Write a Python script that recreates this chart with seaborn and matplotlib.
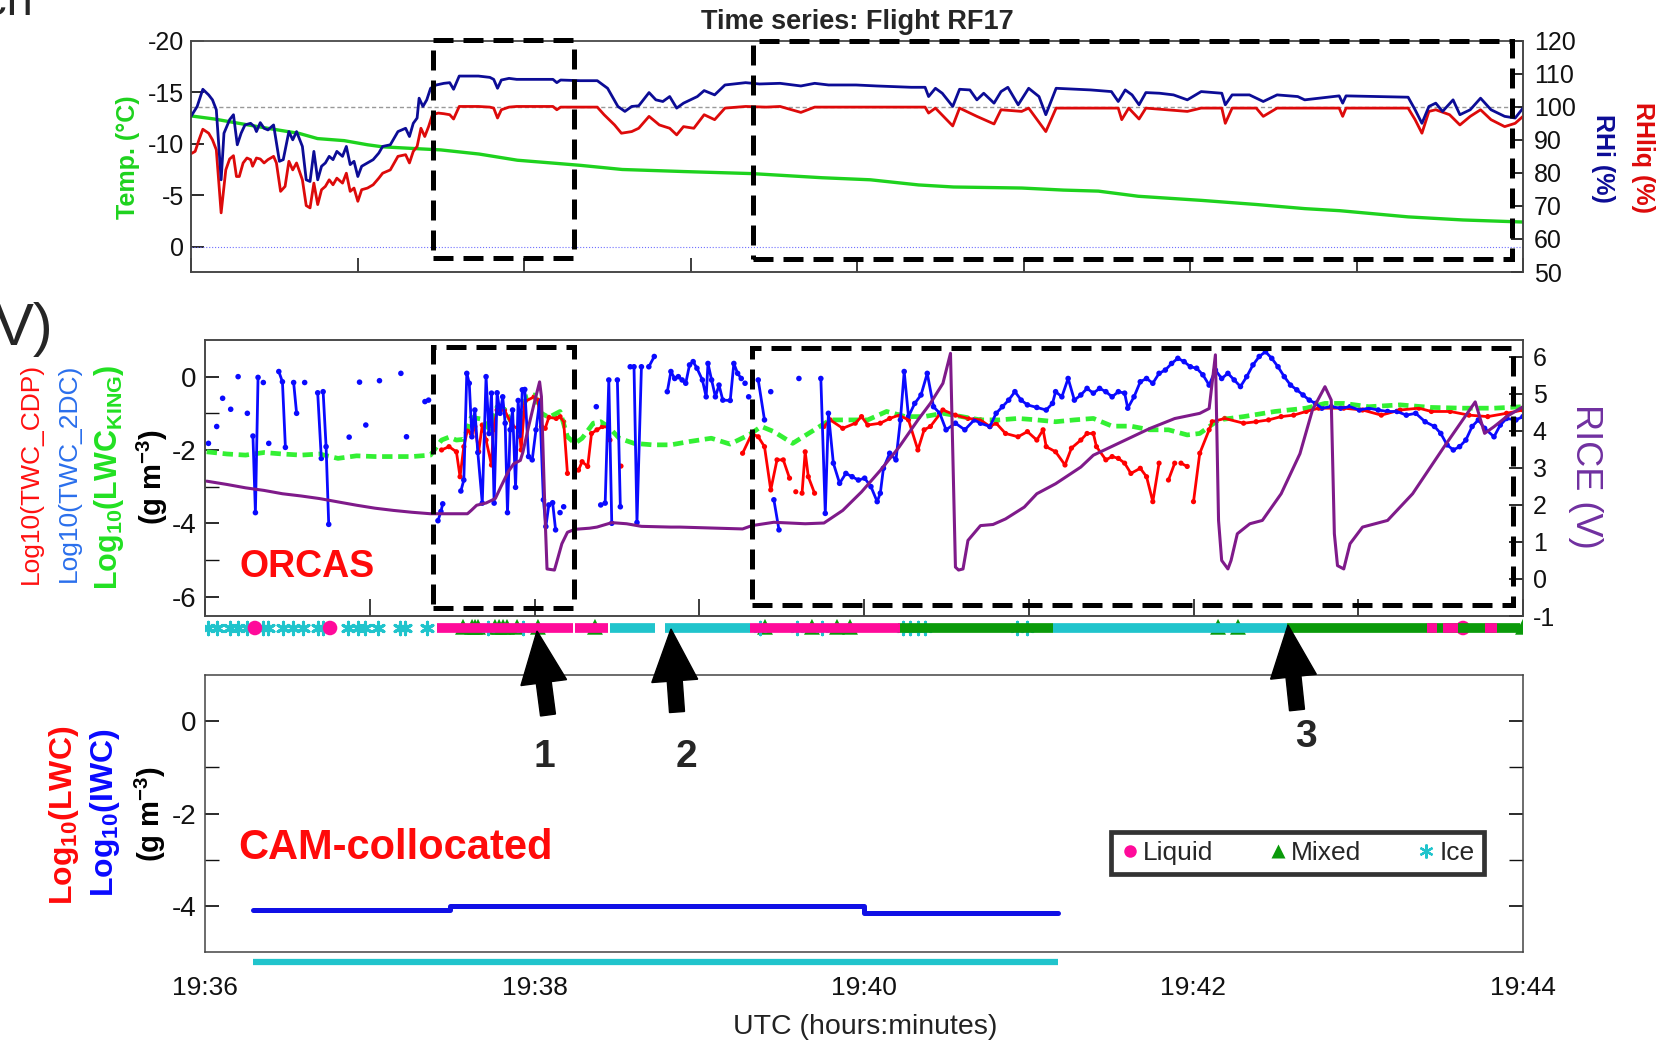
import numpy as np
import pandas as pd
import matplotlib
matplotlib.use('Agg')
import matplotlib.pyplot as plt
import seaborn as sns
from matplotlib import font_manager as fm
from matplotlib.patches import Rectangle, FancyArrow
from matplotlib.transforms import IdentityTransform
from matplotlib.lines import Line2D

# ---------------- DATA (time = minutes after 19:36 UTC) ----------------
temp_t = [0.00, 0.14, 0.28, 0.46, 0.65, 0.76, 0.92, 1.06, 1.15, 1.38, 1.50, 1.73, 1.96, 2.19, 2.34, 2.59,
          2.96, 3.37, 3.79, 4.08, 4.37, 4.58, 4.99, 5.24, 5.45, 5.69, 6.07, 6.40, 6.69, 6.90, 7.31, 7.64, 8.00]
temp_c = [-12.7, -12.4, -12.0, -11.5, -11.0, -10.5, -10.3, -9.9, -9.7, -9.5, -9.4, -9.0, -8.4, -8.1, -7.9, -7.5,
          -7.3, -7.1, -6.7, -6.5, -6.0, -5.8, -5.7, -5.5, -5.4, -4.9, -4.5, -4.1, -3.7, -3.5, -2.9, -2.6, -2.4]

rhi_t = [0.000, 0.037, 0.071, 0.106, 0.129, 0.152, 0.181, 0.198, 0.232, 0.255, 0.278, 0.301, 0.324, 0.358, 0.381,
         0.393, 0.416, 0.439, 0.462, 0.496, 0.531, 0.554, 0.588, 0.611, 0.634, 0.669, 0.692, 0.715, 0.738, 0.761,
         0.784, 0.807, 0.830, 0.853, 0.876, 0.910, 0.933, 0.956, 0.979, 1.002, 1.025, 1.060, 1.094, 1.128, 1.151,
         1.197, 1.243, 1.289, 1.312, 1.335, 1.358, 1.370, 1.393, 1.416, 1.439, 1.473, 1.519, 1.554, 1.577, 1.611,
         1.726, 1.795, 1.818, 1.841, 1.864, 1.910, 1.956, 2.174, 2.197, 2.220,
         2.336, 2.440, 2.502, 2.564, 2.606, 2.647, 2.689, 2.751, 2.792, 2.834, 2.875, 2.917, 2.958, 3.000, 3.041,
         3.082, 3.145, 3.207, 3.331, 3.414, 3.538, 3.663, 3.746, 3.829, 3.994, 4.119, 4.326, 4.409, 4.430, 4.471,
         4.512, 4.575, 4.616, 4.678, 4.720, 4.761, 4.823, 4.865, 4.906, 4.968, 5.031, 5.093, 5.134, 5.196, 5.321,
         5.404, 5.528, 5.569, 5.611, 5.652, 5.694, 5.735, 5.818, 5.901, 5.984, 6.067, 6.191, 6.212, 6.253, 6.357,
         6.440, 6.523, 6.647, 6.689, 6.896, 6.917, 6.937, 7.310, 7.352, 7.393, 7.435, 7.476, 7.517, 7.580, 7.621,
         7.683, 7.745, 7.808, 7.890, 7.953, 8.000]
rhi = [97.1, 100.1, 105.3, 103.6, 102.1, 99.1, 77.9, 92.0, 96.1, 97.6, 88.5, 92.0, 94.5, 95.0, 94.0,
       92.5, 95.2, 93.5, 93.0, 94.5, 83.5, 84.0, 92.5, 90.0, 92.5, 88.0, 77.9, 77.4, 86.5, 77.9,
       82.0, 83.0, 85.0, 84.0, 86.5, 85.0, 88.0, 82.5, 83.5, 78.9, 82.0, 83.0, 84.0, 86.0, 88.0,
       88.5, 92.5, 93.5, 91.0, 95.0, 96.6, 102.6, 100.1, 102.1, 105.6, 106.6, 107.1, 107.3, 105.3, 109.3,
       109.3, 108.9, 108.3, 105.6, 108.1, 108.6, 108.3, 108.3, 107.3, 108.1,
       107.9, 107.9, 105.6, 100.1, 98.6, 100.1, 100.3, 104.3, 102.1, 101.6, 103.1, 99.6, 101.1, 102.1, 103.1,
       104.9, 103.6, 106.6, 107.3, 106.9, 107.1, 106.3, 107.1, 106.6, 106.6, 106.3, 105.9, 105.9, 103.1, 105.6,
       104.1, 100.1, 105.3, 105.1, 102.1, 104.1, 101.1, 104.6, 105.9, 100.6, 105.6, 103.1, 97.6, 105.6, 105.3,
       105.1, 104.6, 101.6, 105.1, 103.6, 100.6, 104.3, 104.1, 103.6, 102.1, 104.6, 104.1, 100.6, 103.6, 103.6,
       101.6, 103.6, 103.1, 102.1, 103.3, 101.1, 103.3, 102.9, 99.1, 95.0, 100.1, 101.1, 98.6, 102.1, 97.6,
       99.1, 102.6, 99.1, 97.1, 96.6, 99.6]

rhliq_t = [0.000, 0.025, 0.048, 0.071, 0.106, 0.129, 0.152, 0.181, 0.209, 0.232, 0.255, 0.273, 0.290, 0.313, 0.336,
           0.358, 0.370, 0.393, 0.416, 0.439, 0.462, 0.496, 0.513, 0.538, 0.565, 0.588, 0.611, 0.634, 0.669, 0.692,
           0.715, 0.738, 0.761, 0.784, 0.807, 0.830, 0.853, 0.876, 0.910, 0.933, 0.956, 0.979, 1.002, 1.025, 1.060,
           1.094, 1.128, 1.151, 1.197, 1.243, 1.289, 1.312, 1.335, 1.358, 1.381, 1.404, 1.427, 1.450, 1.485, 1.519,
           1.554, 1.577, 1.611, 1.726, 1.795, 1.818, 1.841, 1.864, 1.910, 1.956, 2.174, 2.197, 2.220,
           2.336, 2.440, 2.481, 2.544, 2.585, 2.647, 2.689, 2.751, 2.813, 2.875, 2.917, 2.958, 3.020, 3.082, 3.145,
           3.207, 3.331, 3.455, 3.538, 3.663, 3.746, 3.994, 4.409, 4.430, 4.471, 4.575, 4.616, 4.720, 4.823, 4.865,
           4.989, 5.031, 5.134, 5.196, 5.569, 5.590, 5.632, 5.694, 5.735, 5.984, 6.067, 6.191, 6.212, 6.253, 6.398,
           6.440, 6.523, 6.896, 6.917, 6.937, 7.310, 7.352, 7.393, 7.435, 7.476, 7.559, 7.621, 7.683, 7.745, 7.808,
           7.890, 7.953, 8.000]
rhliq = [85.8, 86.5, 90.0, 93.2, 92.0, 90.0, 87.0, 67.9, 80.9, 84.2, 85.2, 78.9, 78.9, 83.0, 84.5,
         84.0, 82.0, 84.5, 84.2, 83.0, 84.0, 85.0, 83.0, 74.4, 75.9, 83.5, 80.9, 83.0, 77.9, 70.1,
         69.4, 76.9, 70.4, 74.9, 75.9, 77.9, 76.4, 78.4, 76.9, 79.9, 74.4, 75.4, 71.4, 74.9, 75.4,
         76.4, 78.4, 79.9, 80.9, 85.0, 85.5, 83.0, 86.5, 88.0, 93.5, 91.0, 94.0, 97.6, 98.1, 97.9,
         97.6, 96.3, 100.1, 100.1, 99.9, 99.6, 96.6, 99.1, 99.9, 100.1, 100.1, 99.1, 99.9,
         99.9, 99.9, 97.6, 94.5, 92.0, 92.5, 93.5, 97.1, 94.5, 93.5, 91.5, 94.0, 93.5, 97.6, 96.1,
         99.6, 100.1, 99.9, 100.1, 98.3, 99.9, 99.9, 99.9, 98.1, 99.6, 94.2, 99.6, 97.1, 94.8, 99.1,
         98.6, 99.6, 92.5, 99.6, 99.6, 96.1, 99.6, 96.3, 99.6, 98.6, 99.6, 99.6, 95.0, 99.6, 99.6,
         97.1, 99.6, 99.6, 97.1, 99.6, 99.6, 96.1, 92.0, 98.6, 99.1, 97.6, 94.5, 97.1, 99.1, 96.1,
         94.0, 95.0, 97.1]

rice_t = [0.010, 0.134, 0.246, 0.358, 0.470, 0.583, 0.695, 0.807, 0.920, 1.032, 1.144, 1.256, 1.369, 1.481, 1.593,
          1.616, 1.649, 1.706, 1.762, 1.795, 1.840, 1.874, 1.914, 1.930, 1.964, 1.998, 2.031, 2.042, 2.065, 2.076,
          2.121, 2.132, 2.166, 2.200, 2.245, 2.334, 2.379, 2.469, 2.559, 2.649, 2.828, 2.883, 3.263, 3.320, 3.453,
          3.643, 3.757, 3.871, 3.985, 4.099, 4.213, 4.327, 4.403, 4.479, 4.525, 4.555, 4.574, 4.601, 4.631, 4.707,
          4.783, 4.859, 4.973, 5.049, 5.163, 5.316, 5.392, 5.544, 5.734, 5.886, 6.038, 6.095, 6.133, 6.152, 6.171,
          6.209, 6.228, 6.266, 6.342, 6.418, 6.532, 6.646, 6.722, 6.798, 6.836, 6.855, 6.874, 6.912, 6.950, 7.026,
          7.102, 7.178, 7.330, 7.520, 7.710, 7.767, 7.824, 7.900, 8.000]
rice_v = [2.64, 2.55, 2.46, 2.39, 2.30, 2.24, 2.17, 2.08, 1.99, 1.91, 1.85, 1.80, 1.76, 1.76, 1.76,
          1.85, 1.99, 2.05, 2.17, 2.48, 2.89, 3.11, 3.20, 3.43, 4.11, 4.74, 5.32, 4.92, 1.58, 0.27,
          0.24, 0.41, 0.95, 1.26, 1.34, 1.37, 1.40, 1.52, 1.49, 1.42, 1.40, 1.40, 1.35, 1.44, 1.53,
          1.49, 1.51, 1.85, 2.35, 2.93, 3.56, 4.29, 4.74, 5.28, 6.09, 0.32, 0.24, 0.27, 1.04, 1.44,
          1.47, 1.62, 1.94, 2.30, 2.57, 3.02, 3.34, 3.66, 4.06, 4.33, 4.47, 4.60, 6.05, 1.58, 0.50,
          0.27, 0.50, 1.22, 1.49, 1.58, 2.30, 3.38, 4.56, 5.19, 4.83, 1.22, 0.36, 0.27, 0.95, 1.40,
          1.49, 1.58, 2.30, 3.56, 4.78, 3.93, 4.11, 4.38, 4.65]

king_t = [0.010, 0.134, 0.246, 0.358, 0.470, 0.583, 0.695, 0.807, 0.920, 1.032, 1.144, 1.256, 1.369, 1.436, 1.481,
          1.526, 1.571, 1.616, 1.683, 1.728, 1.773, 1.818, 1.863, 1.908, 1.953, 1.998, 2.042, 2.087, 2.155, 2.200,
          2.245, 2.289, 2.357, 2.402, 2.447, 2.514, 2.604, 2.716, 2.828, 2.941, 3.073, 3.187, 3.301, 3.377, 3.453,
          3.567, 3.681, 3.795, 3.909, 4.023, 4.137, 4.251, 4.365, 4.479, 4.593, 4.707, 4.821, 4.935, 5.049, 5.163,
          5.277, 5.392, 5.506, 5.620, 5.734, 5.848, 5.962, 6.038, 6.152, 6.304, 6.494, 6.684, 6.798, 6.912, 7.064,
          7.254, 7.444, 7.634, 7.824, 8.000]
king_v = [-2.05, -2.11, -2.14, -2.07, -2.11, -2.14, -2.11, -2.23, -2.16, -2.18, -2.18, -2.18, -2.14, -1.73, -1.65,
          -1.73, -1.71, -1.11, -1.16, -1.45, -0.82, -0.89, -1.27, -1.16, -0.55, -0.50, -1.00, -1.11, -0.95, -1.64,
          -1.82, -1.68, -1.27, -1.23, -1.36, -1.68, -1.82, -1.86, -1.86, -1.77, -1.68, -1.84, -1.59, -1.36, -1.50,
          -1.82, -1.50, -1.18, -1.18, -1.18, -0.95, -1.09, -1.09, -1.00, -1.09, -1.18, -1.18, -1.14, -1.18, -1.23,
          -1.18, -1.14, -1.35, -1.35, -1.45, -1.45, -1.59, -1.55, -1.18, -1.09, -0.95, -0.86, -0.73, -0.73, -0.82,
          -0.77, -0.84, -0.86, -0.86, -0.82]

# CDP (red) segments of (t, log10 g/m3)
cdp_segments = [
    [(1.436, -2.00), (1.481, -1.91), (1.526, -2.05), (1.548, -2.73), (1.571, -1.91), (1.593, -1.45), (1.616, -1.55),
     (1.638, -1.36), (1.661, -2.05), (1.683, -1.32), (1.706, -1.73), (1.739, -2.41), (1.750, -1.45), (1.773, -0.91),
     (1.818, -0.91), (1.863, -1.32), (1.908, -1.45), (1.919, -2.00), (1.941, -0.68), (1.998, -0.55), (2.020, -0.64),
     (2.042, -1.36), (2.065, -1.41), (2.087, -1.11), (2.132, -1.14), (2.155, -1.09), (2.177, -1.23), (2.200, -2.64)],
    [(2.267, -2.55), (2.289, -2.32), (2.323, -2.45), (2.346, -1.55), (2.379, -1.45), (2.413, -1.36), (2.447, -1.38),
     (2.458, -1.73)],
    [(2.525, -2.44)],
    [(3.263, -2.09), (3.320, -1.55), (3.358, -1.64), (3.396, -1.91), (3.434, -3.09), (3.472, -2.27), (3.510, -2.27),
     (3.548, -2.77)],
    [(3.586, -3.14)],
    [(3.624, -3.18), (3.643, -2.05), (3.662, -2.73), (3.700, -3.18)],
    [(3.757, -1.36), (3.795, -1.18), (3.871, -1.41), (3.947, -1.27), (3.985, -1.09), (4.023, -1.32), (4.099, -1.27),
     (4.156, -1.14), (4.213, -1.05), (4.270, -1.18), (4.327, -2.00), (4.365, -1.45), (4.403, -1.36), (4.479, -0.91),
     (4.555, -1.05), (4.631, -1.14), (4.707, -1.18), (4.764, -1.36), (4.802, -1.27), (4.859, -1.55), (4.935, -1.64),
     (4.992, -1.50), (5.049, -1.73), (5.087, -1.45), (5.106, -1.91), (5.163, -2.05), (5.220, -2.41), (5.259, -1.95),
     (5.316, -1.73), (5.354, -1.55), (5.392, -1.55), (5.411, -1.91), (5.468, -2.27), (5.506, -2.18), (5.544, -2.23),
     (5.582, -2.36), (5.620, -2.64), (5.677, -2.50), (5.715, -2.73), (5.753, -3.41), (5.791, -2.36)],
    [(5.848, -2.82), (5.886, -2.36)],
    [(5.924, -2.36), (5.962, -2.45)],
    [(6.000, -3.41), (6.038, -2.09), (6.095, -1.45), (6.114, -1.23), (6.190, -1.14), (6.304, -1.27), (6.380, -1.23),
     (6.456, -1.18), (6.532, -1.09), (6.608, -1.05), (6.684, -0.95), (6.760, -0.86), (6.912, -0.86), (7.026, -0.91),
     (7.140, -1.05), (7.254, -0.91), (7.368, -0.86), (7.444, -0.95), (7.558, -0.95), (7.672, -1.05), (7.786, -1.09),
     (7.900, -1.00), (8.000, -0.91)],
]

# 2DC (blue) segments
twodc_segments = [
    [(0.021, -1.82)], [(0.071, -1.36)], [(0.107, -0.59)], [(0.156, -0.89)], [(0.201, 0.00)], [(0.257, -1.00)],
    [(0.291, -1.62), (0.306, -3.71), (0.322, -0.02)], [(0.354, -0.16)], [(0.387, -1.82)],
    [(0.448, 0.14), (0.470, -0.14), (0.488, -1.93)], [(0.538, -0.16), (0.556, -1.00)], [(0.605, -0.16)],
    [(0.684, -0.44), (0.706, -2.23)], [(0.717, -0.41), (0.735, -1.91), (0.751, -4.03)],
    [(0.875, -1.65)], [(0.938, -0.15)], [(0.976, -1.32)], [(1.059, -0.11)], [(1.189, 0.09)], [(1.223, -1.64)],
    [(1.335, -0.68), (1.357, -0.64)], [(1.414, -3.93), (1.432, -3.68), (1.443, -3.47)],
    [(1.553, -3.12), (1.571, -2.82), (1.589, 0.09), (1.604, -0.18), (1.620, -1.64), (1.638, -0.91), (1.656, -2.07),
     (1.683, -3.45), (1.706, 0.00), (1.724, -1.55), (1.739, -0.45), (1.755, -3.45), (1.773, -0.44), (1.791, -1.00),
     (1.807, -0.55), (1.822, -1.27), (1.836, -3.71), (1.852, -1.45), (1.867, -0.91), (1.885, -3.02), (1.901, -0.65),
     (1.914, -1.64), (1.926, -0.36), (1.941, -0.35), (1.964, -2.18), (1.986, -2.27), (2.009, -1.45), (2.031, -0.68),
     (2.054, -3.36), (2.069, -4.09), (2.087, -3.50), (2.110, -3.44), (2.128, -4.18)],
    [(2.155, -3.71)], [(2.177, -3.55)], [(2.375, -0.82)],
    [(2.402, -3.50), (2.429, -3.45), (2.451, -0.09), (2.469, -4.00)], [(2.503, -0.09), (2.521, -3.55)],
    [(2.581, 0.27), (2.604, 0.27), (2.622, -3.98), (2.649, 0.27)], [(2.694, 0.27), (2.727, 0.55)],
    [(2.806, -0.41), (2.828, 0.14), (2.851, -0.05), (2.873, 0.00), (2.896, -0.09), (2.918, -0.18), (2.941, 0.32),
     (2.963, 0.41), (2.986, 0.23), (3.019, -0.09), (3.042, -0.55), (3.053, 0.36), (3.075, -0.09), (3.098, -0.55),
     (3.120, -0.23), (3.143, -0.64), (3.188, -0.65), (3.210, 0.36), (3.233, 0.09), (3.255, -0.05)],
    [(3.278, -0.18)], [(3.300, -0.55)], [(3.358, -0.09), (3.396, -1.18)], [(3.434, -0.41)],
    [(3.453, -3.36), (3.484, -4.18)], [(3.605, -0.05)],
    [(3.738, -0.05), (3.765, -3.73), (3.784, -1.00), (3.814, -2.36), (3.852, -2.91), (3.890, -2.64), (3.928, -2.73),
     (3.966, -2.82), (4.004, -2.77), (4.042, -3.00), (4.080, -3.41), (4.099, -3.18), (4.118, -2.50), (4.156, -2.09),
     (4.194, -2.27), (4.221, -1.18), (4.244, 0.14), (4.270, -1.09), (4.308, -0.73), (4.346, -0.50), (4.384, 0.09),
     (4.422, -0.82), (4.460, -1.00), (4.498, -1.45), (4.555, -1.27), (4.612, -1.45), (4.669, -1.18), (4.707, -1.27),
     (4.764, -1.36), (4.802, -1.00), (4.840, -0.82), (4.878, -0.64), (4.916, -0.41), (4.954, -0.64), (4.992, -0.77),
     (5.049, -0.84), (5.106, -0.91), (5.144, -0.73), (5.163, -0.41), (5.201, -0.55), (5.239, -0.05), (5.277, -0.64),
     (5.316, -0.50), (5.354, -0.32), (5.392, -0.45), (5.430, -0.32), (5.468, -0.41), (5.506, -0.55), (5.544, -0.41),
     (5.582, -0.45), (5.601, -0.86), (5.639, -0.55), (5.677, -0.14), (5.715, -0.05), (5.753, -0.18), (5.791, 0.09),
     (5.829, 0.18), (5.867, 0.36), (5.905, 0.50), (5.943, 0.41), (5.981, 0.27), (6.019, 0.23), (6.057, 0.05),
     (6.095, -0.23), (6.133, 0.18), (6.171, -0.05), (6.209, 0.09), (6.247, -0.09), (6.285, -0.27), (6.323, 0.00),
     (6.361, 0.32), (6.399, 0.55), (6.437, 0.68), (6.475, 0.50), (6.513, 0.27), (6.551, 0.00), (6.589, -0.23),
     (6.627, -0.36), (6.665, -0.50), (6.703, -0.64), (6.741, -0.73), (6.779, -0.86), (6.836, -0.82), (6.893, -0.86),
     (6.950, -0.82), (7.007, -0.91), (7.064, -0.86), (7.121, -0.91), (7.178, -0.95), (7.235, -0.95), (7.292, -1.05),
     (7.349, -1.00), (7.406, -1.23), (7.463, -1.36), (7.501, -1.55), (7.539, -1.86), (7.577, -2.00), (7.615, -1.91),
     (7.653, -1.73), (7.691, -1.36), (7.729, -1.18), (7.767, -1.41), (7.824, -1.64), (7.862, -1.32), (7.900, -1.14),
     (7.957, -1.18), (8.000, -1.09)],
]

# phase classification along the ORCAS track (minutes)
liq_runs = [(1.406, 2.234), (2.246, 2.446), (3.308, 4.219), (7.417, 7.478), (7.514, 7.605), (7.769, 7.842)]
mix_runs = [(4.206, 5.147), (6.568, 7.982)]
ice_runs = [(2.458, 2.731), (2.792, 3.308), (5.147, 6.568)]
liq_pts = [0.303, 0.759, 7.636]
mix_pts = [1.566, 1.621, 1.639, 1.657, 1.760, 1.785, 1.809, 1.833, 1.894, 2.021, 2.367, 3.399, 3.684, 3.836,
           3.915, 6.149, 6.270, 8.0]
ice_pts = [0.020, 0.071, 0.152, 0.202, 0.253, 0.354, 0.384, 0.475, 0.536, 0.597, 0.688, 0.718, 0.870, 0.931,
           0.971, 1.052, 1.184, 1.214, 1.346, 1.718, 1.930, 3.369, 3.593, 3.745, 4.237, 4.279, 4.328, 4.370,
           4.929, 4.989]

# CAM collocated
cam_t = [0.29, 1.49, 4.00, 5.18]
cam_iwc = [-4.08, -4.00, -4.16, -4.16]
cam_ice_runs = [(0.29, 5.18)]

xtick_labels = ['19:36', '', '19:38', '', '19:40', '', '19:42', '', '19:44']

# ---------------- STYLE ----------------
sns.set_theme(style='white')
SANS = 'Liberation Sans'
plt.rcParams['font.family'] = [SANS, 'DejaVu Sans']
plt.rcParams['axes.unicode_minus'] = False
plt.rcParams['mathtext.fontset'] = 'custom'
plt.rcParams['mathtext.rm'] = 'Liberation Sans'
plt.rcParams['mathtext.bf'] = 'Liberation Sans:bold'
plt.rcParams['mathtext.it'] = 'Liberation Sans:italic'

C_RHI, C_RHL, C_T = '#0c0c96', '#dd0a0a', '#1ed21e'
C_CDP, C_2DC, C_KING, C_RICE = '#ff0000', '#0a0aff', '#33f033', '#7f1a8a'
LIQ, MIX, ICE = '#ff0a9a', '#0a9a0a', '#20c4cc'
SPINE = '#444444'

W, H = 1662, 1048
fig = plt.figure(figsize=(W / 100, H / 100), dpi=100)


def pos(x0, y0, x1, y1):
    return [x0 / W, 1 - y1 / H, (x1 - x0) / W, (y1 - y0) / H]


def fx(x):
    return x / W


def fy(y):
    return 1 - y / H


def seg_frame(segments):
    rows = []
    for i, s in enumerate(segments):
        for t, v in s:
            rows.append((t, v, i))
    return pd.DataFrame(rows, columns=['t', 'v', 'seg'])


def frame_ax(ax):
    for sp in ax.spines.values():
        sp.set_color(SPINE)
        sp.set_linewidth(1.1)
    ax.set_xlabel('')
    ax.set_ylabel('')


# ---------------- TOP PANEL ----------------
ax1 = fig.add_axes(pos(191, 40.7, 1523, 272))
ax1r = ax1.twinx()
sns.lineplot(x=temp_t, y=temp_c, ax=ax1, color=C_T, lw=2.4)
ax1.axhline(0, color='#7070ff', lw=0.8, ls=':')
ax1.set_xlim(0, 8)
ax1.set_ylim(2.45, -20)
ax1.set_yticks([-20, -15, -10, -5, 0])
ax1.set_xticks(range(9))
ax1.tick_params(axis='x', direction='in', length=10, bottom=True, labelbottom=False, top=False)
ax1.tick_params(axis='y', direction='in', length=9, left=True, right=False, labelsize=18, pad=5, colors='#111')
sns.lineplot(x=rhliq_t, y=rhliq, ax=ax1r, color=C_RHL, lw=2.0, sort=False)
sns.lineplot(x=rhi_t, y=rhi, ax=ax1r, color=C_RHI, lw=2.0, sort=False)
ax1r.axhline(100, color='#999999', lw=1.0, ls=(0, (3, 2)), zorder=0)
ax1r.set_ylim(50, 120)
ax1r.set_yticks(range(50, 121, 10))
ax1r.tick_params(axis='y', direction='in', length=9, right=True, labelsize=18, pad=8, colors='#111')
frame_ax(ax1)
frame_ax(ax1r)
ax1.spines['top'].set_color('#888888')

# ---------------- MIDDLE PANEL ----------------
ax2 = fig.add_axes(pos(205, 340, 1523, 616))
sns.lineplot(x=king_t, y=king_v, ax=ax2, color=C_KING, lw=3.4, linestyle=(0, (2.2, 1.2)))
cdp_df = seg_frame(cdp_segments)
sns.lineplot(data=cdp_df, x='t', y='v', units='seg', estimator=None, sort=False, ax=ax2, color=C_CDP, lw=2.0,
             legend=False)
sns.scatterplot(data=cdp_df, x='t', y='v', ax=ax2, color=C_CDP, s=14, edgecolor='none', legend=False)
tdc_df = seg_frame(twodc_segments)
sns.lineplot(data=tdc_df, x='t', y='v', units='seg', estimator=None, sort=False, ax=ax2, color=C_2DC, lw=2.0,
             legend=False)
sns.scatterplot(data=tdc_df, x='t', y='v', ax=ax2, color=C_2DC, s=16, edgecolor='none', legend=False)
ax2.set_xlim(0, 8)
ax2.set_ylim(-6.53, 1.0)
ax2.set_yticks([-6, -4, -2, 0])
ax2.set_yticks([-5, -3, -1], minor=True)
ax2.set_xticks(range(9))
ax2.tick_params(axis='x', direction='in', length=12, bottom=True, labelbottom=False)
ax2.tick_params(axis='y', which='both', direction='in', length=10, left=True, right=False, labelsize=20, pad=6,
                colors='#111')
ax2r = ax2.twinx()
sns.lineplot(x=rice_t, y=rice_v, ax=ax2r, color=C_RICE, lw=2.2, sort=False)
ax2r.set_ylim(-0.95, 6.45)
ax2r.set_yticks(range(-1, 7))
ax2r.tick_params(axis='y', direction='in', length=10, right=True, labelsize=18, pad=7, colors='#111')
frame_ax(ax2)
frame_ax(ax2r)

# phase strip
axs = fig.add_axes(pos(205, 618, 1523, 638))
axs.set_xlim(0, 8)
axs.set_ylim(0, 1)
axs.axis('off')
for runs, col in [(ice_runs, ICE), (mix_runs, MIX), (liq_runs, LIQ)]:
    axs.hlines([0.5] * len(runs), [a for a, b in runs], [b for a, b in runs], color=col, lw=7)
sns.scatterplot(x=mix_pts, y=[0.56] * len(mix_pts), ax=axs, marker='^', s=130, color=MIX, edgecolor='none')
sns.scatterplot(x=ice_pts, y=[0.5] * len(ice_pts), ax=axs, marker=(6, 2, 0), s=80, color=ICE, linewidth=2.2)
sns.scatterplot(x=liq_pts, y=[0.5] * len(liq_pts), ax=axs, marker='o', s=110, color=LIQ, edgecolor='none')
axs.set_xlim(0, 8)
axs.set_ylim(0, 1)

# ---------------- BOTTOM PANEL ----------------
ax3 = fig.add_axes(pos(205, 675, 1523, 952))
sns.lineplot(x=cam_t, y=cam_iwc, ax=ax3, color='#1010e6', lw=3.6, drawstyle='steps-post')
ax3.set_xlim(0, 8)
ax3.set_ylim(-5, 1)
ax3.set_yticks([-4, -2, 0])
ax3.set_yticks([-3, -1], minor=True)
ax3.set_xticks(range(9))
ax3.set_xticklabels(xtick_labels)
ax3.tick_params(axis='x', direction='in', length=12, labelsize=19, pad=17, colors='#111')
ax3.tick_params(axis='y', which='both', direction='in', length=10, left=True, right=True, labelsize=20, pad=6,
                colors='#111')
frame_ax(ax3)

axs2 = fig.add_axes(pos(205, 955, 1523, 969))
axs2.set_xlim(0, 8)
axs2.set_ylim(0, 1)
axs2.axis('off')
axs2.hlines([0.5] * len(cam_ice_runs), [a for a, b in cam_ice_runs], [b for a, b in cam_ice_runs], color=ICE, lw=4.5)

# ---------------- TEXTS ----------------
fig.text(fx(857), fy(21.7), 'Time series: Flight RF17', ha='center', va='center', weight='bold', size=19.5,
         family=SANS)
fig.text(fx(128), fy(157.5), 'Temp. (°C)', rotation=90, ha='center', va='center', color=C_T, weight='bold',
         size=18, family=SANS)
fig.text(fx(1603), fy(158), 'RHi (%)', rotation=270, ha='center', va='center', color=C_RHI, weight='bold',
         size=18, family=SANS)
fig.text(fx(1643), fy(157), 'RHliq (%)', rotation=270, ha='center', va='center', color=C_RHL, weight='bold',
         size=18, family=SANS)

fig.text(fx(31), fy(473), 'Log10(TWC_CDP)', rotation=90, ha='center', va='center', color='#ff1010', size=19,
         family=SANS)
fig.text(fx(69), fy(473), 'Log10(TWC_2DC)', rotation=90, ha='center', va='center', color='#2a6fec', size=19,
         family=SANS)
fig.text(fx(109), fy(477), r'$\mathbf{Log}_{\mathbf{10}}\mathbf{(LWC}_{\mathbf{KING}}\mathbf{)}$', rotation=90,
         ha='center', va='center', color='#22e022', size=22)
fig.text(fx(152), fy(477), r'$\mathbf{(g\ m}^{\mathbf{-3}}\mathbf{)}$', rotation=90, ha='center', va='center',
         color='black', size=21)
fig.text(fx(1585), fy(476), 'RICE (V)', rotation=270, ha='center', va='center', color='#7030a0', size=26,
         family=SANS)
fig.text(fx(307), fy(567), 'ORCAS', ha='center', va='center', color='#ff0a0a', weight='bold', size=27,
         family=SANS)

fig.text(fx(64), fy(815), r'$\mathbf{Log}_{\mathbf{10}}\mathbf{(LWC)}$', rotation=90, ha='center', va='center',
         color='#ff0a0a', size=23)
fig.text(fx(105), fy(813), r'$\mathbf{Log}_{\mathbf{10}}\mathbf{(IWC)}$', rotation=90, ha='center', va='center',
         color='#0a0aff', size=23)
fig.text(fx(150), fy(814), r'$\mathbf{(g\ m}^{\mathbf{-3}}\mathbf{)}$', rotation=90, ha='center', va='center',
         color='black', size=21)
fig.text(fx(395), fy(848), 'CAM-collocated', ha='center', va='center', color='#ff0a0a', weight='bold', size=30,
         family=SANS)
fig.text(fx(865), fy(1027), 'UTC (hours:minutes)', ha='center', va='center', color='#222', size=20.5)

for lab, x, y in [('1', 544, 757), ('2', 686, 757), ('3', 1306, 737)]:
    fig.text(fx(x), fy(y), lab, ha='center', va='center', weight='bold', size=28, family=SANS)

# cropped fragments of neighbouring panels
fig.text(-17 / W, fy(15), 'ch', ha='left', va='baseline', size=34, family=SANS)
fig.text(-6 / W, fy(345), 'V)', ha='left', va='baseline', size=43, family=SANS)

# ---------------- BOXES AND ARROWS ----------------
for (x0, y0, x1, y1) in [(432.5, 40, 573.5, 258), (752.5, 40.7, 1512, 259),
                         (433, 346.7, 573.7, 607.7), (752, 348, 1512.8, 605)]:
    fig.add_artist(Rectangle((fx(x0), fy(y1)), (x1 - x0) / W, (y1 - y0) / H, transform=fig.transFigure,
                             fill=False, ec='black', lw=3.6, ls=(0, (4, 2)), joinstyle='miter', zorder=10))

for (xt, yt, xh, yh) in [(548, 715, 537, 631), (677, 712, 671, 629), (1297, 710, 1288, 625)]:
    fig.add_artist(FancyArrow(xt, H - yt, xh - xt, yt - yh, width=15, head_width=46, head_length=52,
                              length_includes_head=True, transform=IdentityTransform(), color='black',
                              zorder=11))

# ---------------- LEGEND ----------------
handles = [Line2D([], [], ls='none', marker='o', ms=9, color=LIQ, mec='none'),
           Line2D([], [], ls='none', marker='^', ms=10, color=MIX, mec='none'),
           Line2D([], [], ls='none', marker=(6, 2, 0), ms=10, color=ICE, mew=1.6)]
leg = fig.legend(handles, ['Liquid', 'Mixed', 'Ice'], loc='center', bbox_to_anchor=(fx(1297.5), fy(853)),
                 ncol=3, frameon=True, fancybox=False, edgecolor='black', fontsize=19, handlelength=0.7,
                 handletextpad=0.15, columnspacing=2.1, borderpad=0.35)
leg.get_frame().set_linewidth(3.4)

fig.savefig('out.png', dpi=100)
